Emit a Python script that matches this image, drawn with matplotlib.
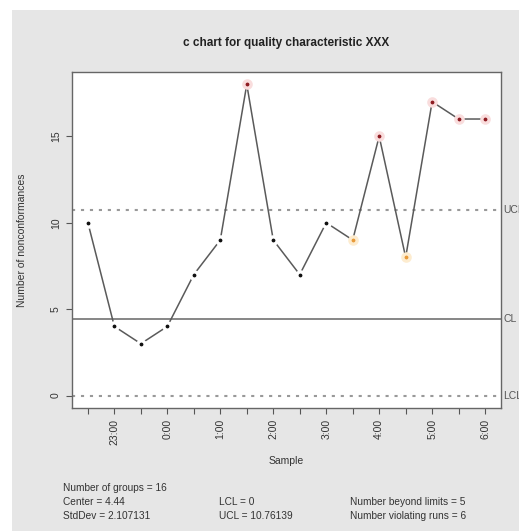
import numpy as np
import matplotlib.pyplot as plt
from matplotlib.patches import Rectangle

plt.rcParams['font.family'] = ['Liberation Sans', 'DejaVu Sans']

#---
# chart data
#---
samples = ['22:30', '23:00', '23:30', '0:00', '0:30', '1:00', '1:30', '2:00',
           '2:30', '3:00', '3:30', '4:00', '4:30', '5:00', '5:30', '6:00']
counts = [10, 4, 3, 4, 7, 9, 18, 9, 7, 10, 9, 15, 8, 17, 16, 16]
status = ['ok', 'ok', 'ok', 'ok', 'ok', 'ok', 'out', 'ok',
          'ok', 'ok', 'run', 'out', 'run', 'out', 'out', 'out']

center = 4.44
lcl = 0
ucl = 10.76139
stddev = 2.107131
n_beyond = 5
n_runs = 6

W, H = 519, 531
fig = plt.figure(figsize=(W/100., H/100.), dpi=100)
fig.patch.set_facecolor('white')
fig.patches.append(Rectangle((12./W, 0), 1, (H-10.)/H, transform=fig.transFigure,
                             facecolor='#e6e6e6', edgecolor='none', zorder=-10))

ax = fig.add_axes([72./W, 123./H, 429./W, 336./H])
ax.set_zorder(5)
ax.set_facecolor('white')

x = np.arange(1, len(counts)+1)
y = np.array(counts)

#---- limits
ax.axhline(center, color='#666666', lw=1.1)
ax.axhline(ucl, color='#999999', lw=1.5, ls=(0, (1.5, 2.8)))
ax.axhline(lcl, color='#999999', lw=1.5, ls=(0, (1.5, 2.8)))

#---- line with gaps round points (type = "b")
ax.plot(x, y, color='#5a5a5a', lw=1.1, zorder=2)
cols = {'ok': '#111111', 'out': '#8e1c22', 'run': '#e89a3a'}
halo = {'ok': 'white', 'out': '#f9dddd', 'run': '#fdeccf'}
for xi, yi, s in zip(x, y, status):
    ax.plot(xi, yi, 'o', color=cols[s], markersize=5.2,
            markeredgecolor=halo[s], markeredgewidth=2.4, zorder=3)

ax.set_xlim(0.4, 16.6)
ax.set_ylim(-0.72, 18.72)

ax.set_xticks(x)
ax.set_xticklabels([s if i % 2 == 1 else '' for i, s in enumerate(samples)],
                   rotation=90, fontsize=7.5, color='#333333')
ax.set_yticks([0, 5, 10, 15])
ax.set_yticklabels(['0', '5', '10', '15'], rotation=90, va='center',
                   fontsize=7.5, color='#333333')
ax.tick_params(direction='out', length=4, color='#555555', width=0.8, pad=4)
for sp in ax.spines.values():
    sp.set_color('#666666')
    sp.set_linewidth(1.0)

ax.set_xlabel('Sample', fontsize=7.5, color='#333333', labelpad=8)
ax.set_ylabel('Number of nonconformances', fontsize=7.5, color='#333333', labelpad=17)
ax.set_title('c chart for quality characteristic XXX', fontsize=8.5,
             fontweight='bold', color='#222222', pad=19)

#---- limit labels on right (cut by the edge, as in the original)
for val, lab in [(ucl, 'UCL'), (center, 'CL'), (lcl, 'LCL')]:
    ax.text(16.68, val, lab, fontsize=7.5, color='#555555', va='center', ha='left',
            clip_on=False)

#---- summary text
fs = 7.3
tc = '#333333'
fig.text(63./W, 1-488./H, 'Number of groups = %d' % len(counts), fontsize=fs, color=tc, va='center')
fig.text(63./W, 1-502./H, 'Center = %.2f' % center, fontsize=fs, color=tc, va='center')
fig.text(63./W, 1-516./H, 'StdDev = %s' % stddev, fontsize=fs, color=tc, va='center')
fig.text(219./W, 1-502./H, 'LCL = %d' % lcl, fontsize=fs, color=tc, va='center')
fig.text(219./W, 1-516./H, 'UCL = %s' % ucl, fontsize=fs, color=tc, va='center')
fig.text(350./W, 1-502./H, 'Number beyond limits = %d' % n_beyond, fontsize=fs, color=tc, va='center')
fig.text(350./W, 1-516./H, 'Number violating runs = %d' % n_runs, fontsize=fs, color=tc, va='center')

plt.savefig('out.png', dpi=100)
